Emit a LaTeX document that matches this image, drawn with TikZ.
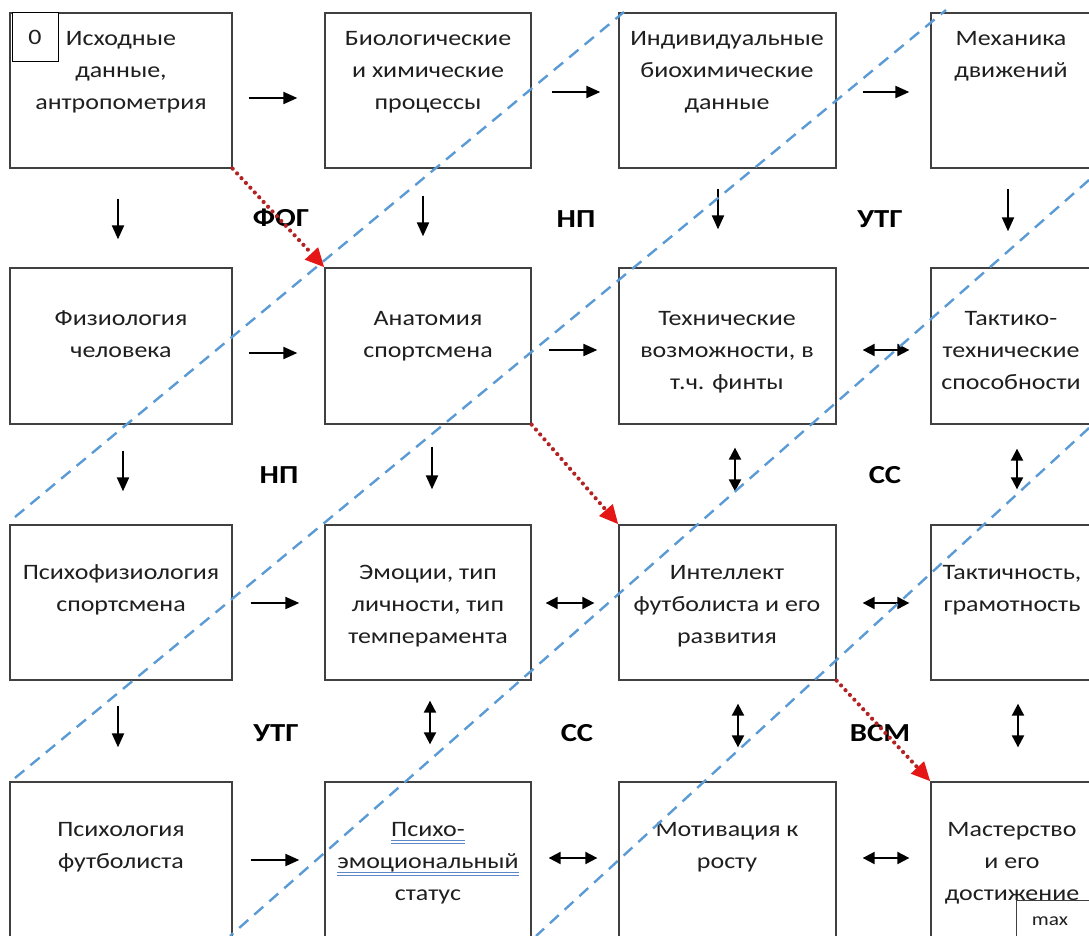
\documentclass[tikz,border=0pt]{standalone}
\usepackage{fontspec}
\setmainfont{Carlito}[FakeStretch=1.18]
\usetikzlibrary{arrows.meta}
\definecolor{boxgray}{RGB}{64,64,64}
\definecolor{dashblue}{RGB}{91,155,213}
\definecolor{dotred}{RGB}{180,35,35}
\definecolor{tipred}{RGB}{228,22,22}
\definecolor{ulblue}{RGB}{95,135,200}
\newcommand\dblue[1]{\setbox0\hbox{#1}\rlap{\textcolor{ulblue}{\rule[-4.5pt]{\wd0}{1pt}}}\rlap{\textcolor{ulblue}{\rule[-7.5pt]{\wd0}{1pt}}}\box0}
\begin{document}
\begin{tikzpicture}[x=1pt,y=-1pt,
  box/.style={draw=boxgray, line width=1.3pt, fill=white, inner sep=0pt},
  txt/.style={font=\fontsize{22}{32}\selectfont, text=black!88, align=center, anchor=north, inner sep=0pt},
  lbl/.style={font=\fontsize{26}{30}\selectfont\bfseries, text=black, inner sep=0pt},
  arr/.style={line width=2pt, -{Triangle[length=14pt,width=12pt]}},
  darr/.style={line width=2pt, {Triangle[length=12pt,width=12pt]}-{Triangle[length=12pt,width=12pt]}},
  redarr/.style={dotred, line width=4.2pt, dash pattern=on 0pt off 6.5pt, line cap=round, -{Triangle[length=19pt,width=17pt,color=tipred]}},
  diag/.style={dashblue, line width=2.4pt, dash pattern=on 12pt off 8pt}]
\useasboundingbox (0,0) rectangle (1089,936);
\clip (0,0) rectangle (1089,936);
% boxes
\node[box, minimum width=222pt, minimum height=155pt] (b11) at (121,90.5) {};
\node[box, minimum width=206pt, minimum height=155pt] (b12) at (428,90.5) {};
\node[box, minimum width=217pt, minimum height=155pt] (b13) at (727.5,90.5) {};
\node[box, minimum width=219pt, minimum height=155pt] (b14) at (1040.5,90.5) {};
\node[box, minimum width=222pt, minimum height=156pt] (b21) at (121,346) {};
\node[box, minimum width=206pt, minimum height=156pt] (b22) at (428,346) {};
\node[box, minimum width=217pt, minimum height=156pt] (b23) at (727.5,346) {};
\node[box, minimum width=219pt, minimum height=156pt] (b24) at (1040.5,346) {};
\node[box, minimum width=222pt, minimum height=155pt] (b31) at (121,602.5) {};
\node[box, minimum width=206pt, minimum height=155pt] (b32) at (428,602.5) {};
\node[box, minimum width=217pt, minimum height=155pt] (b33) at (727.5,602.5) {};
\node[box, minimum width=219pt, minimum height=155pt] (b34) at (1040.5,602.5) {};
\node[box, minimum width=222pt, minimum height=160pt] (b41) at (121,862) {};
\node[box, minimum width=206pt, minimum height=160pt] (b42) at (428,862) {};
\node[box, minimum width=217pt, minimum height=160pt] (b43) at (727.5,862) {};
\node[box, minimum width=219pt, minimum height=160pt] (b44) at (1040.5,862) {};
% texts
\node[txt] (t11) at (121,29) {\rule{0pt}{16pt}Исходные\\данные,\\антропометрия};
\node[txt] (t12) at (428,29) {\rule{0pt}{16pt}Биологические\\и химические\\процессы};
\node[txt] (t13) at (727,29) {\rule{0pt}{16pt}Индивидуальные\\биохимические\\данные};
\node[txt] (t14) at (1011,29) {\rule{0pt}{16pt}Механика\\движений};
\node[txt] (t21) at (121,309) {\rule{0pt}{16pt}Физиология\\человека};
\node[txt] (t22) at (428,309) {\rule{0pt}{16pt}Анатомия\\спортсмена};
\node[txt] (t23) at (727,309) {\rule{0pt}{16pt}Технические\\возможности, в\\т.ч. финты};
\node[txt] (t24) at (1011,309) {\rule{0pt}{16pt}Тактико-\\технические\\способности};
\node[txt] (t31) at (121,563) {\rule{0pt}{16pt}Психофизиология\\спортсмена};
\node[txt] (t32) at (428,563) {\rule{0pt}{16pt}Эмоции, тип\\личности, тип\\темперамента};
\node[txt] (t33) at (727,563) {\rule{0pt}{16pt}Интеллект\\футболиста и его\\развития};
\node[txt] (t34) at (1012,563) {\rule{0pt}{16pt}Тактичность,\\грамотность};
\node[txt] (t41) at (121,820) {\rule{0pt}{16pt}Психология\\футболиста};
\node[txt] (t42) at (428,820) {\rule{0pt}{16pt}\dblue{Психо-}\\\dblue{эмоциональный}\\статус};
\node[txt] (t43) at (727,820) {\rule{0pt}{16pt}Мотивация к\\росту};
\node[txt] (t44) at (1012,820) {\rule{0pt}{16pt}Мастерство\\и его\\достижение};
% labels
\node[lbl] (l1) at (281,218) {ФОГ};
\node[lbl] (l2) at (576,219) {НП};
\node[lbl] (l3) at (880,219) {УТГ};
\node[lbl] (l4) at (279,475) {НП};
\node[lbl] (l5) at (885,475) {СС};
\node[lbl] (l6) at (276,733) {УТГ};
\node[lbl] (l7) at (577,733) {СС};
\node[lbl] (l8) at (880,733) {ВСМ};
% horizontal arrows
\draw[arr, shorten <=16pt, shorten >=27pt] (b11.east |- 0,98) -- (b12.west |- 0,98);
\draw[arr, shorten <=20pt, shorten >=18pt] (b12.east |- 0,92) -- (b13.west |- 0,92);
\draw[arr, shorten <=26pt, shorten >=21pt] (b13.east |- 0,92) -- (b14.west |- 0,92);
\draw[arr, shorten <=16pt, shorten >=27pt] (b21.east |- 0,353) -- (b22.west |- 0,353);
\draw[arr, shorten <=17pt, shorten >=21pt] (b22.east |- 0,350) -- (b23.west |- 0,350);
\draw[darr, shorten <=26pt, shorten >=21pt] (b23.east |- 0,350) -- (b24.west |- 0,350);
\draw[arr, shorten <=18pt, shorten >=25pt] (b31.east |- 0,603) -- (b32.west |- 0,603);
\draw[darr, shorten <=14pt, shorten >=24pt] (b32.east |- 0,603) -- (b33.west |- 0,603);
\draw[darr, shorten <=26pt, shorten >=21pt] (b33.east |- 0,603) -- (b34.west |- 0,603);
\draw[arr, shorten <=18pt, shorten >=25pt] (b41.east |- 0,860) -- (b42.west |- 0,860);
\draw[darr, shorten <=17pt, shorten >=21pt] (b42.east |- 0,858) -- (b43.west |- 0,858);
\draw[darr, shorten <=26pt, shorten >=21pt] (b43.east |- 0,858) -- (b44.west |- 0,858);
% vertical arrows
\draw[arr, shorten <=30pt, shorten >=28pt] (b11.south -| 118,0) -- (b21.north -| 118,0);
\draw[arr, shorten <=27pt, shorten >=31pt] (b12.south -| 423,0) -- (b22.north -| 423,0);
\draw[arr, shorten <=20pt, shorten >=38pt] (b13.south -| 718,0) -- (b23.north -| 718,0);
\draw[arr, shorten <=20pt, shorten >=36pt] (b14.south -| 1008,0) -- (b24.north -| 1008,0);
\draw[arr, shorten <=26pt, shorten >=33pt] (b21.south -| 123,0) -- (b31.north -| 123,0);
\draw[arr, shorten <=22pt, shorten >=35pt] (b22.south -| 432,0) -- (b32.north -| 432,0);
\draw[darr, shorten <=23pt, shorten >=33pt] (b23.south -| 735,0) -- (b33.north -| 735,0);
\draw[darr, shorten <=24pt, shorten >=35pt] (b24.south -| 1017,0) -- (b34.north -| 1017,0);
\draw[arr, shorten <=25pt, shorten >=34pt] (b31.south -| 118,0) -- (b41.north -| 118,0);
\draw[darr, shorten <=20pt, shorten >=37pt] (b32.south -| 430,0) -- (b42.north -| 430,0);
\draw[darr, shorten <=23pt, shorten >=34pt] (b33.south -| 738,0) -- (b43.north -| 738,0);
\draw[darr, shorten <=23pt, shorten >=34pt] (b34.south -| 1018,0) -- (b44.north -| 1018,0);
% blue dashed diagonals
\draw[diag] (15,517) -- (624,12);
\draw[diag] (15,778) -- (946,10);
\draw[diag] (1089,180) -- (230,936);
\draw[diag] (1089,428) -- (536,936);
% red dotted arrows
\draw[redarr] (b11.south east) -- (b22.north west);
\draw[redarr] (b22.south east) -- (b33.north west);
\draw[redarr] (b33.south east) -- (b44.north west);
% small boxes
\node[draw=black, line width=1pt, fill=white, minimum width=46pt, minimum height=49pt, inner sep=0pt, font=\fontsize{22}{25}\selectfont, text=black!88] (zero) at (35,37.5) {0};
\node[draw=boxgray, line width=1pt, fill=white, minimum width=80pt, minimum height=44pt, inner sep=0pt] (mx) at (1056,922) {};
\node[font=\fontsize{18}{22}\selectfont, text=black!88, inner sep=0pt] (mxt) at (1050,921) {max};
\end{tikzpicture}
\end{document}
